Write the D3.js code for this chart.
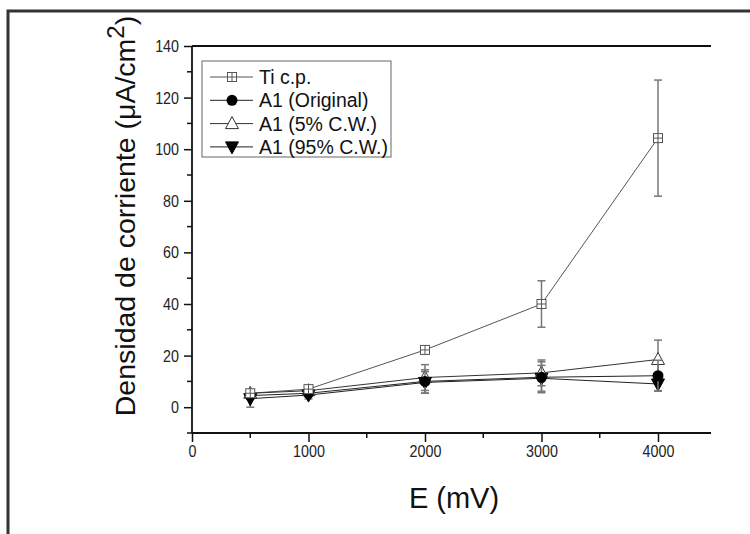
<!DOCTYPE html>
<html><head><meta charset="utf-8">
<script src="https://cdn.jsdelivr.net/npm/d3@7"></script>
<style>
body{margin:0;background:#fff;}
svg{display:block;}
text{font-family:"Liberation Sans",Arial,sans-serif;}
</style></head>
<body>
<script>
const xValues = [500, 1000, 2000, 3000, 4000];
const seriesNames = ["Ti c.p.", "A1 (Original)", "A1 (5% C.W.)", "A1 (95% C.W.)"];
const tiValues = [5.4, 7.0, 22.2, 40.0, 104.3];
const tiErrors = [1.0, 1.0, 1.0, 9.0, 22.5];
const origValues = [4.5, 5.4, 10.0, 11.6, 12.2];
const origErrors = [1.0, 1.0, 4.5, 6.0, 6.0];
const cw5Values = [5.4, 6.4, 11.5, 13.3, 18.5];
const cw5Errors = [1.0, 1.0, 5.0, 5.0, 7.5];
const cw95Values = [3.3, 4.7, 9.6, 11.2, 9.0];
const cw95Errors = [3.3, 1.5, 4.2, 5.0, 2.6];
const xTicks = [0, 1000, 2000, 3000, 4000];
const yTicks = [0, 20, 40, 60, 80, 100, 120, 140];

const W = 750, H = 534;
const svg = d3.select("body").append("svg").attr("width", W).attr("height", H);

// outer frame
svg.append("path").attr("d", `M8,534 L8,11 L750,11`).attr("fill", "none")
  .attr("stroke", "#333").attr("stroke-width", 3);

const L = 192, R = 711, T = 46, B = 433;
const x = d3.scaleLinear().domain([0, 4455]).range([L, R]);
const y = d3.scaleLinear().domain([-10, 140]).range([B, T]);

// axes
const yAxis = d3.axisLeft(y).tickValues(yTicks).tickSize(8).tickPadding(5).tickFormat(d3.format("d"));
const gy = svg.append("g").attr("transform", `translate(${L},0)`).call(yAxis);
const xAxis = d3.axisBottom(x).tickValues(xTicks).tickSize(9).tickPadding(3).tickFormat(d3.format("d"));
const gx = svg.append("g").attr("transform", `translate(0,${B})`).call(xAxis);
[gx, gy].forEach(g => {
  g.select(".domain").remove();
  g.selectAll(".tick line").attr("stroke", "#111").attr("stroke-width", 1.5);
  g.selectAll(".tick text").attr("font-size", 17).attr("fill", "#222")
    .each(function () {
      const w = this.getComputedTextLength();
      d3.select(this).attr("textLength", w * 0.84).attr("lengthAdjust", "spacingAndGlyphs");
    });
});
// minor ticks
const yMinor = d3.range(-10, 141, 20);
svg.append("g").selectAll("line").data(yMinor).join("line")
  .attr("x1", L - 5).attr("x2", L).attr("y1", d => y(d)).attr("y2", d => y(d))
  .attr("stroke", "#111").attr("stroke-width", 1.5);
const xMinor = d3.range(500, 4455, 1000);
svg.append("g").selectAll("line").data(xMinor).join("line")
  .attr("x1", d => x(d)).attr("x2", d => x(d)).attr("y1", B).attr("y2", B + 5)
  .attr("stroke", "#111").attr("stroke-width", 1.5);
// axis lines
svg.append("line").attr("x1", L).attr("x2", L).attr("y1", T).attr("y2", B).attr("stroke", "#111").attr("stroke-width", 1.8);
svg.append("line").attr("x1", L).attr("x2", R).attr("y1", B).attr("y2", B).attr("stroke", "#111").attr("stroke-width", 1.8);
svg.append("line").attr("x1", L).attr("x2", R).attr("y1", T).attr("y2", T).attr("stroke", "#111").attr("stroke-width", 1.8);

// axis titles
svg.append("text").attr("x", 454).attr("y", 508).attr("text-anchor", "middle")
  .attr("font-size", 29).attr("fill", "#111").text("E (mV)");
const yl = svg.append("text").attr("transform", "translate(135,216) rotate(-90)")
  .attr("text-anchor", "middle").attr("font-size", 28.5).attr("fill", "#111");
yl.append("tspan").text("Densidad de corriente (μA/cm");
yl.append("tspan").attr("dy", -11).attr("font-size", 24).text("2");
yl.append("tspan").attr("dy", 11).text(")");

const series = [
  {name: seriesNames[0], vals: tiValues, errs: tiErrors, marker: "sqcross", color: "#555"},
  {name: seriesNames[1], vals: origValues, errs: origErrors, marker: "circle", color: "#222"},
  {name: seriesNames[2], vals: cw5Values, errs: cw5Errors, marker: "tri", color: "#333"},
  {name: seriesNames[3], vals: cw95Values, errs: cw95Errors, marker: "dtri", color: "#222"}
];

function drawMarker(g, type, cx, cy) {
  if (type === "sqcross") {
    g.append("rect").attr("x", cx - 4.5).attr("y", cy - 4.5).attr("width", 9).attr("height", 9)
      .attr("fill", "#fff").attr("stroke", "#555").attr("stroke-width", 1);
    g.append("path").attr("d", `M${cx - 4.5},${cy}H${cx + 4.5}M${cx},${cy - 4.5}V${cy + 4.5}`)
      .attr("stroke", "#555").attr("stroke-width", 1);
  } else if (type === "circle") {
    g.append("circle").attr("cx", cx).attr("cy", cy).attr("r", 5.5).attr("fill", "#000");
  } else if (type === "tri") {
    g.append("path").attr("d", `M${cx},${cy - 7}L${cx + 6.5},${cy + 5}L${cx - 6.5},${cy + 5}Z`)
      .attr("fill", "#fff").attr("stroke", "#333").attr("stroke-width", 1);
  } else {
    g.append("path").attr("d", `M${cx},${cy + 7}L${cx + 6.5},${cy - 5}L${cx - 6.5},${cy - 5}Z`)
      .attr("fill", "#000").attr("stroke", "#000").attr("stroke-width", 1);
  }
}

const line = d3.line().x((d, i) => x(xValues[i])).y(d => y(d));
series.forEach(s => {
  svg.append("path").datum(s.vals).attr("d", line).attr("fill", "none")
    .attr("stroke", s.color).attr("stroke-width", 1);
});
series.slice().reverse().forEach(s => {
  const g = svg.append("g");
  s.vals.forEach((v, i) => {
    const cx = x(xValues[i]);
    const y1 = y(v + s.errs[i]), y2 = y(v - s.errs[i]);
    g.append("line").attr("x1", cx).attr("x2", cx).attr("y1", y1).attr("y2", y2)
      .attr("stroke", "#777").attr("stroke-width", 1.5);
    [y1, y2].forEach(yy => g.append("line").attr("x1", cx - 4).attr("x2", cx + 4)
      .attr("y1", yy).attr("y2", yy).attr("stroke", "#777").attr("stroke-width", 1.5));
  });
  s.vals.forEach((v, i) => drawMarker(g, s.marker, x(xValues[i]), y(v)));
});

// legend
const lg = svg.append("g");
lg.append("rect").attr("x", 202).attr("y", 61).attr("width", 189).attr("height", 96)
  .attr("fill", "#fff").attr("stroke", "#666").attr("stroke-width", 1);
series.forEach((s, i) => {
  const yy = 77 + i * 23.3;
  lg.append("line").attr("x1", 210).attr("x2", 253).attr("y1", yy).attr("y2", yy)
    .attr("stroke", s.color).attr("stroke-width", 1);
  drawMarker(lg, s.marker, 232, yy);
  lg.append("text").attr("x", 259).attr("y", yy + 7).attr("font-size", 19.5).attr("fill", "#111").text(s.name);
});
</script>
</body></html>
